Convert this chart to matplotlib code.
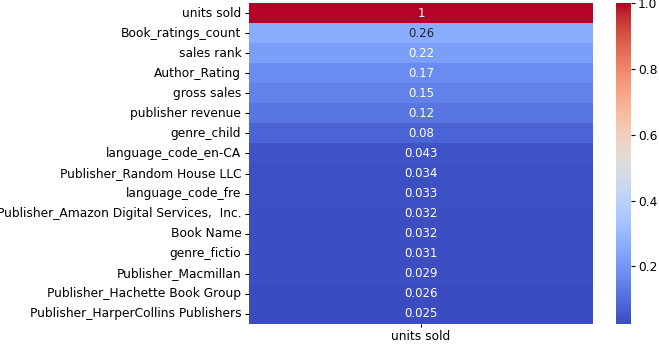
import numpy as np
import pandas as pd
import matplotlib
matplotlib.use("Agg")
import matplotlib.pyplot as plt
import seaborn as sns

features = ["units sold", "Book_ratings_count", "sales rank", "Author_Rating",
            "gross sales", "publisher revenue", "genre_child",
            "language_code_en-CA", "Publisher_Random House LLC",
            "language_code_fre", "Publisher_Amazon Digital Services,  Inc.",
            "Book Name", "genre_fictio", "Publisher_Macmillan",
            "Publisher_Hachette Book Group", "Publisher_HarperCollins Publishers"]
corr_units = [1, 0.26, 0.22, 0.17, 0.15, 0.12, 0.08, 0.043, 0.034, 0.033,
              0.032, 0.032, 0.031, 0.029, 0.026, 0.025]

corr = pd.DataFrame({"units sold": corr_units}, index=features)

fig = plt.figure(figsize=(6.59, 3.44), dpi=100)
ax = fig.add_axes([249/659, 20/344, 344/659, 321/344])
cax = fig.add_axes([616/659, 20/344, 15/659, 321/344])

sns.heatmap(corr, annot=True, cmap="coolwarm", ax=ax, cbar_ax=cax,
            annot_kws={"fontsize": 8.5})
ax.tick_params(axis="y", labelsize=8.8, length=3, pad=2.5)
ax.tick_params(axis="x", labelsize=8.8, length=2.5, pad=1.5)
cax.tick_params(labelsize=8.8, length=3, pad=2)

fig.savefig("out.png", dpi=100)
